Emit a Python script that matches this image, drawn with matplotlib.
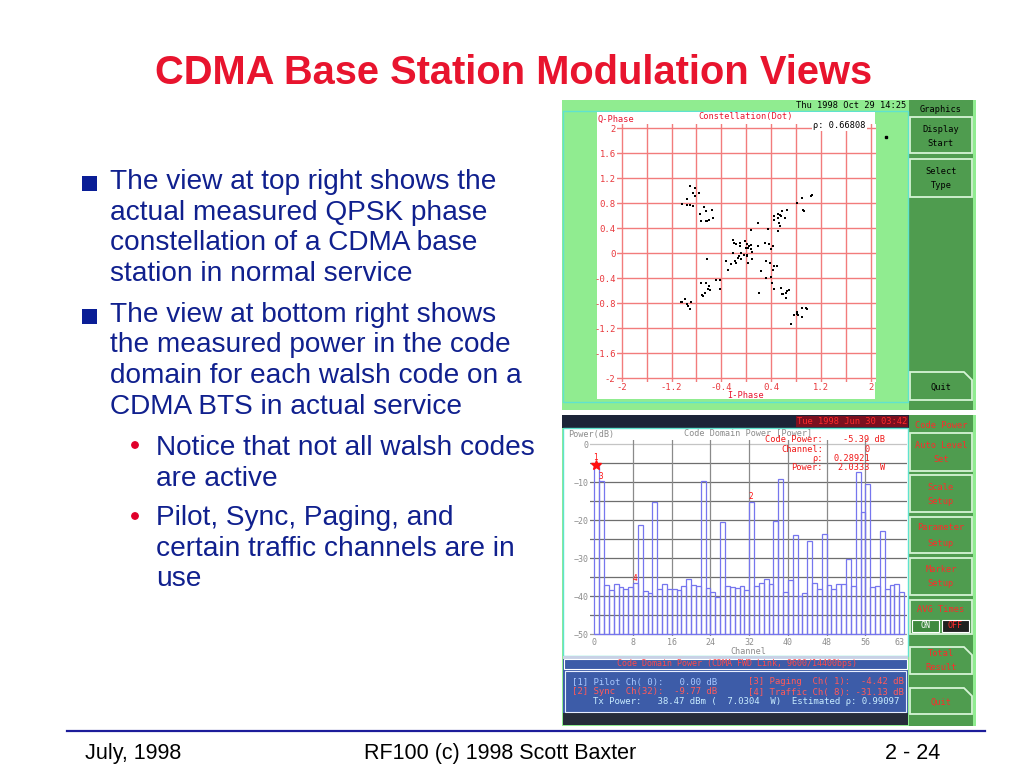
import numpy as np
import matplotlib.pyplot as plt
from matplotlib.patches import Rectangle, Polygon, Circle

W, H = 1024, 768

# slide text
title = 'CDMA Base Station Modulation Views'
bullet1 = ['The view at top right shows the', 'actual measured QPSK phase',
           'constellation of a CDMA base', 'station in normal service']
bullet2 = ['The view at bottom right shows', 'the measured power in the code',
           'domain for each walsh code on a', 'CDMA BTS in actual service']
sub1 = ['Notice that not all walsh codes', 'are active']
sub2 = ['Pilot, Sync, Paging, and', 'certain traffic channels are in', 'use']
footer = ['July, 1998', 'RF100 (c) 1998 Scott Baxter', '2 - 24']

# constellation (dot) samples
i_phase = [-0.91, -0.83, -0.86, -0.82, -0.76, -0.95, -1.04, -0.95, -0.91, -0.85,
           -0.74, -0.68, -0.65, -0.55, -0.72, -0.65, -0.63, -0.60, -0.54, -0.63,
           -0.21, -0.20, -0.16, -0.10, -0.10, -0.02, 0.01, 0.04, 0.07, -0.01,
           0.02, 0.07, 0.09, 0.01, -0.03, -0.09, -0.11, -0.08, -0.13, -0.18,
           -0.16, -0.25, -0.33, 0.01, 0.02, 0.09, 0.18, 0.08, 0.18, -0.21,
           -0.29, -0.42,
           0.34, 0.30, 0.37, 0.43, 0.39, 0.32, 0.38, 0.42, 0.49, 0.44,
           0.23, 0.32, 0.40, 0.41, 0.44, 0.21,
           0.44, 0.50, 0.54, 0.58, 0.65, 0.51, 0.55, 0.62, 0.53, 0.54, 0.50, 0.45,
           0.81, 0.90, 0.91, 0.92, 1.03, 1.06,
           -0.73, -0.65, -0.60, -0.62, -0.66, -0.59, -0.71, -0.70, -0.48, -0.42,
           -1.05, -1.03, -0.98, -0.96, -0.93, -0.91, -0.88,
           0.56, 0.59, 0.63, 0.65, 0.68, 0.57, 0.64,
           0.76, 0.81, 0.83, 0.82, 0.89, 0.95, 0.97, 0.90, 0.71]
q_phase = [1.08, 1.04, 0.97, 0.91, 0.96, 0.87, 0.79, 0.78, 0.77, 0.76,
           0.63, 0.74, 0.67, 0.69, 0.51, 0.52, 0.51, 0.53, 0.57, -0.10,
           0.21, 0.17, 0.15, 0.16, 0.11, 0.19, 0.14, 0.11, 0.13, 0.08,
           0.09, 0.07, 0.02, -0.03, -0.03, 0.01, -0.05, -0.10, -0.08, -0.12,
           -0.16, -0.18, -0.12, -0.05, -0.15, -0.09, 0.11, 0.37, 0.48, 0.00,
           -0.27, -0.43,
           0.38, 0.16, 0.15, 0.11, 0.06, -0.13, -0.16, -0.27, -0.20, -0.21,
           -0.29, -0.40, -0.38, -0.48, -0.57, -0.64,
           0.60, 0.62, 0.61, 0.68, 0.69, 0.56, 0.59, 0.56, 0.48, 0.44, 0.36, 0.53,
           0.81, 0.89, 0.69, 0.67, 0.91, 0.93,
           -0.48, -0.48, -0.53, -0.58, -0.63, -0.59, -0.67, -0.69, -0.43, -0.57,
           -0.78, -0.78, -0.74, -0.81, -0.84, -0.89, -0.79,
           -0.56, -0.65, -0.63, -0.60, -0.59, -0.66, -0.72,
           -0.99, -0.97, -0.99, -0.95, -0.88, -0.88, -0.90, -1.02, -1.14]

# code domain power per walsh channel (dB)
channels = np.arange(64)
code_power = [-5.39, -9.8, -37.1, -38.4, -36.9, -37.7, -38.1, -37.6, -36.5, -21.3,
              -38.7, -39.3, -15.3, -38.0, -36.7, -38.1, -38.1, -38.5, -37.2, -35.6,
              -37.1, -37.2, -9.8, -37.9, -39.0, -40.3, -20.6, -37.4, -37.5, -37.9,
              -37.2, -38.4, -15.2, -37.3, -36.6, -35.6, -36.8, -20.2, -9.1, -39.0,
              -35.7, -23.8, -40.0, -39.2, -25.5, -36.6, -38.0, -23.5, -37.1, -38.1,
              -36.9, -36.7, -30.2, -37.2, -7.4, -17.9, -10.5, -37.7, -37.4, -22.9,
              -38.0, -37.1, -36.7, -39.0]
marker_ch = [0.25, 32.4, 1.3, 8.4]
marker_lbl = ['1', '2', '3', '4']
marker_y = [-3.6, -13.8, -8.6, -35.3]

plt.rcParams['font.family'] = ['Liberation Sans', 'DejaVu Sans']
MONO = 'DejaVu Sans Mono'
LG = '#90ec90'      # light green frame
DG = '#4f9c4f'      # dark green panel
CY = '#5fe3cf'      # cyan borders
NAVY = '#10208e'
RED = '#e8142e'


def frac(x, y, w, h):
    # pixel box (top-left origin) -> figure fraction
    return [x / W, 1 - (y + h) / H, w / W, h / H]


def rect(ax, x0, y0, x1, y1, fc, ec='none', lw=0.0, z=1):
    ax.add_patch(Rectangle((x0, y0), x1 - x0, y1 - y0, facecolor=fc,
                           edgecolor=ec, linewidth=lw, zorder=z))


def button(ax, x0, y0, x1, y1, lines, ys, color, bevel=False):
    if bevel:
        pts = [(x0, y0), (x1 - 8, y0), (x1, y0 + 8), (x1, y1), (x0, y1)]
        ax.add_patch(Polygon(pts, closed=True, facecolor=DG, edgecolor='#d6f4d6',
                             linewidth=1.3, zorder=2))
    else:
        rect(ax, x0, y0, x1, y1, DG, '#d6f4d6', 1.3, 2)
    for s, yy in zip(lines, ys):
        ax.text((x0 + x1) / 2, yy, s, ha='center', va='center', family=MONO,
                fontsize=6.2, color=color, zorder=3)


fig = plt.figure(figsize=(W / 100, H / 100), dpi=100)
fig.patch.set_facecolor('white')

bg = fig.add_axes([0, 0, 1, 1], zorder=0)
bg.set_xlim(0, W)
bg.set_ylim(H, 0)
bg.axis('off')

# overlay for text that sits on top of the two charts
fg = fig.add_axes([0, 0, 1, 1], zorder=5)
fg.set_xlim(0, W)
fg.set_ylim(H, 0)
fg.axis('off')
fg.patch.set_visible(False)

# ---- slide text
bg.text(514, 84, title, ha='center', va='baseline', fontsize=28.7,
        fontweight='bold', color=RED)
for k, s in enumerate(bullet1):
    bg.text(110, 189 + 30.7 * k, s, va='baseline', fontsize=20.2, color=NAVY)
for k, s in enumerate(bullet2):
    bg.text(110, 321.7 + 30.7 * k, s, va='baseline', fontsize=20.2, color=NAVY)
for yb in [176, 309]:
    rect(bg, 82, yb, 97, yb + 15, '#0a1e96')
for k, s in enumerate(sub1):
    bg.text(156, 455 + 30.5 * k, s, va='baseline', fontsize=20.2, color=NAVY)
for k, s in enumerate(sub2):
    bg.text(156, 525 + 30.7 * k, s, va='baseline', fontsize=20.2, color=NAVY)
for yc in [445, 516]:
    bg.add_patch(Circle((135, yc), 3.2, color='#e0002a', zorder=2))

# footer
bg.plot([67, 985], [731, 731], color='#1c1c9a', lw=1.6)
bg.text(85, 759, footer[0], va='baseline', fontsize=15.5, color='black')
bg.text(500, 759, footer[1], ha='center', va='baseline', fontsize=15.5, color='black')
bg.text(940, 759, footer[2], ha='right', va='baseline', fontsize=15.5, color='black')

# ---- top screen (constellation)
rect(bg, 562, 100, 976, 410, LG)
rect(bg, 563, 111, 908, 402, 'none', CY, 1.0, 2)
rect(bg, 597, 112, 875, 399, 'white', z=2)
bg.text(796, 106, 'Thu 1998 Oct 29 14:25', va='center', family=MONO,
        fontsize=6.3, color='black', zorder=3)
bg.text(597, 119, 'Q-Phase', va='center', family=MONO, fontsize=6.2, color=RED, zorder=3)
bg.text(746, 117, 'Constellation(Dot)', ha='center', va='center', family=MONO,
        fontsize=6.2, color=RED, zorder=3)
fg.text(813, 125, 'ρ: 0.66808', va='center', family=MONO, fontsize=6.2,
        color='black', zorder=3,
        bbox=dict(boxstyle='square,pad=0.15', fc='white', ec='none'))
bg.text(746, 396, 'I-Phase', ha='center', va='center', family=MONO, fontsize=6.2,
        color=RED, zorder=3)
bg.plot([886], [137], 's', color='black', ms=1.8, zorder=3)

rect(bg, 909, 100, 973, 410, DG, z=1)
bg.text(941, 110, 'Graphics', ha='center', va='center', family=MONO,
        fontsize=6.2, color='black', zorder=3)
button(bg, 910, 117, 972, 153, ['Display', 'Start'], [129, 143], 'black')
button(bg, 910, 159, 972, 197, ['Select', 'Type'], [171, 185], 'black')
button(bg, 910, 372, 972, 400, ['Quit'], [387], 'black', bevel=True)

# ---- bottom screen (code domain power)
rect(bg, 562, 415, 976, 726, LG)
rect(bg, 562, 415, 909, 428, '#1c2438', z=2)
bg.text(797, 421.5, 'Tue 1998 Jun 30 03:42', va='center', family=MONO,
        fontsize=6.3, color='#ff2a2a', zorder=3,
        bbox=dict(boxstyle='square,pad=0.1', fc='#7a1020', ec='none'))
rect(bg, 563, 428, 908, 656, 'white', CY, 1.0, 2)
bg.text(568, 435, 'Power(dB)', va='center', family=MONO, fontsize=6.1,
        color='#8c8c8c', zorder=3)
bg.text(748, 433, 'Code Domain Power [Power]', ha='center', va='center',
        family=MONO, fontsize=6.1, color='#8c8c8c', zorder=3)
bg.text(748, 651, 'Channel', ha='center', va='center', family=MONO, fontsize=6.1,
        color='#8c8c8c', zorder=3)

# readout in red
readout = [('Code Power:', '-5.39 dB', 440), ('Channel:', '0', 449.3),
           ('ρ:', '0.28921', 458.3), ('Power:', '2.0333  W', 467.7)]
for lab, val, yy in readout:
    fg.text(823, yy, lab, ha='right', va='center', family=MONO, fontsize=6.2,
            color='#f01818', zorder=6)
for (lab, val, yy), xv, ha in zip(readout, [885, 870, 833, 885],
                                  ['right', 'right', 'left', 'right']):
    fg.text(xv, yy, val, ha=ha, va='center', family=MONO, fontsize=6.2,
            color='#f01818', zorder=6)

# info panel
rect(bg, 563, 656, 908, 659, '#c8d2e6', z=2)
rect(bg, 563, 659, 908, 713, '#3d5ca8', z=2)
rect(bg, 564, 659, 907, 669, 'none', 'white', 0.8, 3)
rect(bg, 565, 671, 906, 711.5, 'none', '#e8eeff', 0.8, 3)
rect(bg, 563, 713, 908, 725, '#262c3a', z=2)
bg.text(737, 664, 'Code Domain Power (CDMA FWD Link, 9600/14400bps)', ha='center',
        va='center', family=MONO, fontsize=6.0, color='#ff4a4a', zorder=4)
bg.text(572, 682, '[1] Pilot Ch( 0):   0.00 dB', va='center', family=MONO,
        fontsize=6.5, color='#a8c8ff', zorder=4)
bg.text(748, 682, '[3] Paging  Ch( 1):  -4.42 dB', va='center', family=MONO,
        fontsize=6.5, color='#ff5a5a', zorder=4)
bg.text(572, 692, '[2] Sync  Ch(32):  -9.77 dB', va='center', family=MONO,
        fontsize=6.5, color='#ff5a5a', zorder=4)
bg.text(748, 692, '[4] Traffic Ch( 8): -31.13 dB', va='center', family=MONO,
        fontsize=6.5, color='#ff5a5a', zorder=4)
bg.text(593, 702, 'Tx Power:   38.47 dBm (  7.0304  W)  Estimated ρ: 0.99097',
        va='center', family=MONO, fontsize=6.5, color='#c8ecff', zorder=4)

# right side panel of bottom screen
rect(bg, 909, 415, 973, 726, DG, z=1)
bg.text(941, 426, 'Code Power', ha='center', va='center', family=MONO,
        fontsize=6.2, color='#ff2a2a', zorder=3)
button(bg, 910, 433, 972, 471, ['Auto Level', 'Set'], [445, 459], '#ff2a2a')
button(bg, 910, 475, 972, 512, ['Scale', 'Setup'], [487, 502], '#ff2a2a')
button(bg, 910, 517, 972, 553, ['Parameter', 'Setup'], [528, 543], '#ff2a2a')
button(bg, 910, 558, 972, 595, ['Marker', 'Setup'], [570, 584], '#ff2a2a')
button(bg, 910, 600, 972, 634, ['AVG Times'], [610], '#ff2a2a')
rect(bg, 912, 620, 939, 632, '#3f8a3f', 'white', 0.8, 4)
bg.text(925.5, 626, 'ON', ha='center', va='center', family=MONO, fontsize=6,
        color='white', zorder=5)
rect(bg, 942, 620, 969, 632, '#202020', 'white', 0.8, 4)
bg.text(955.5, 626, 'OFF', ha='center', va='center', family=MONO, fontsize=6,
        color='#ff2a2a', zorder=5)
button(bg, 910, 647, 972, 674, ['Total', 'Result'], [654, 667], '#ff2a2a', bevel=True)
button(bg, 910, 688, 972, 714, ['Quit'], [702], '#ff2a2a', bevel=True)

# ---- constellation axes
ax_c = fig.add_axes(frac(617, 124, 259, 258), zorder=2)
ax_c.set_xlim(-2.075, 2.08)
ax_c.set_ylim(-2.064, 2.07)
grid_ticks = np.round(np.arange(-2, 2.01, 0.4), 1) + 0.0
xlabels = ['-2', '', '-1.2', '', '-0.4', '', '0.4', '', '1.2', '', '2']
ylabels = ['%g' % (t if abs(t) > 1e-9 else 0.0) for t in grid_ticks]
ax_c.set_xticks(grid_ticks, labels=xlabels)
ax_c.set_yticks(grid_ticks, labels=ylabels)
ax_c.tick_params(length=0, pad=1.0, labelsize=6.4, labelcolor='#e8383c')
for lab in ax_c.get_xticklabels() + ax_c.get_yticklabels():
    lab.set_family(MONO)
ax_c.grid(True, color='#f27c7c', lw=1.0)
for sp in ax_c.spines.values():
    sp.set_visible(False)
ax_c.scatter(i_phase, q_phase, s=3.5, c='black', marker='s', linewidths=0, zorder=3)

# ---- code domain power axes
ax_b = fig.add_axes(frac(590, 440, 317, 196), zorder=2)
ax_b.set_facecolor('white')
ax_b.set_xlim(-0.89, 64.6)
ax_b.set_ylim(-50.5, 1.13)
for yv in range(-45, 0, 5):
    ax_b.axhline(yv, color='#6e6e6e', lw=0.9, zorder=1)
ax_b.axhline(0, color='#c4c4c4', lw=0.9, zorder=1)
ax_b.axhline(-50, color='#9a9a9a', lw=0.9, zorder=1)
for xv in range(8, 63, 8):
    ax_b.axvline(xv, color='#8a8a8a', lw=0.9, zorder=1)
heights = np.array(code_power) + 50
ax_b.bar(channels, heights, bottom=-50, width=1.0, align='edge', fill=False,
         edgecolor='#7676ee', linewidth=0.9, zorder=2)
ax_b.plot(marker_ch[0], code_power[0], marker='*', color='#ff1010', ms=7, zorder=4)
for cx, cy, s in zip(marker_ch, marker_y, marker_lbl):
    ax_b.text(cx, cy, s, ha='center', va='center', family=MONO, fontsize=5.5,
              color='#ff1010', zorder=4)
ax_b.set_yticks(range(-50, 1, 10))
ax_b.set_xticks([0, 8, 16, 24, 32, 40, 48, 56, 63])
ax_b.tick_params(length=0, pad=1.2, labelsize=6, labelcolor='#8c8c8c')
for lab in ax_b.get_xticklabels() + ax_b.get_yticklabels():
    lab.set_family(MONO)
for sp in ax_b.spines.values():
    sp.set_visible(False)

fig.savefig('out.png', dpi=100)
